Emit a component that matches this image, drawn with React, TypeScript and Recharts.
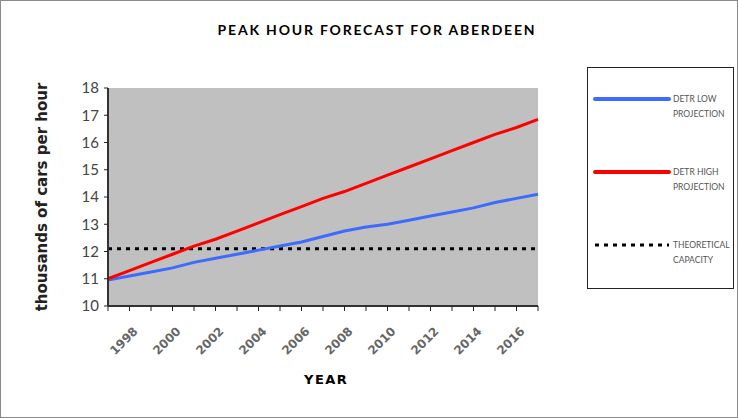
import React from 'react';
import { LineChart, Line, XAxis, YAxis, CartesianGrid } from 'recharts';

// Years on the category axis (labels shown every other year)
const years = [
  '1997', '1998', '1999', '2000', '2001', '2002', '2003', '2004', '2005', '2006', '2007',
  '2008', '2009', '2010', '2011', '2012', '2013', '2014', '2015', '2016', '2017',
];

// thousands of cars per hour
const lowProjection = [
  10.95, 11.1, 11.25, 11.4, 11.6, 11.75, 11.9, 12.05, 12.2, 12.35, 12.55,
  12.75, 12.9, 13.0, 13.15, 13.3, 13.45, 13.6, 13.8, 13.95, 14.1,
];
const highProjection = [
  11.0, 11.3, 11.6, 11.9, 12.2, 12.45, 12.75, 13.05, 13.35, 13.65, 13.95,
  14.2, 14.5, 14.8, 15.1, 15.4, 15.7, 16.0, 16.3, 16.55, 16.85,
];
const capacity = [
  12.1, 12.1, 12.1, 12.1, 12.1, 12.1, 12.1, 12.1, 12.1, 12.1, 12.1,
  12.1, 12.1, 12.1, 12.1, 12.1, 12.1, 12.1, 12.1, 12.1, 12.1,
];
const yTicks = [10, 11, 12, 13, 14, 15, 16, 17, 18];

const seriesNames = [
  { key: 'low', lines: ['DETR LOW', 'PROJECTION'], color: '#3d6bff', dash: undefined },
  { key: 'high', lines: ['DETR HIGH', 'PROJECTION'], color: '#ff0000', dash: undefined },
  { key: 'capacity', lines: ['THEORETICAL', 'CAPACITY'], color: '#000000', dash: '4 5' },
];

const data = years.map((year, i) => ({
  year,
  low: lowProjection[i],
  high: highProjection[i],
  capacity: capacity[i],
}));

const YearTick = (props: any) => {
  const { x, y, payload, index } = props;
  if (index % 2 === 0) return null;
  const ax = x + 9;
  const ay = y + 19;
  return (
    <text
      x={ax}
      y={ay}
      transform={`rotate(-45, ${ax}, ${ay})`}
      textAnchor="end"
      fontSize={12}
      fontWeight="bold"
      fill="#666"
      fontFamily="DejaVu Sans, sans-serif"
    >
      {payload.value}
    </text>
  );
};

const App: React.FC = () => {
  return (
    <div
      style={{
        position: 'absolute',
        left: 0,
        top: 0,
        width: 736,
        height: 416,
        border: '1px solid #8a8a8a',
        background: '#fff',
        fontFamily: 'Lato, sans-serif',
      }}
    >
      <div
        style={{
          position: 'absolute',
          left: 0,
          top: 20,
          width: 752,
          textAlign: 'center',
          fontSize: 14,
          fontWeight: 'bold',
          letterSpacing: 1.8,
          fontFamily: 'Lato, sans-serif',
        }}
      >
        PEAK HOUR FORECAST FOR ABERDEEN
      </div>

      <LineChart
        width={738}
        height={418}
        data={data}
        margin={{ top: 88, right: 200, left: 48, bottom: 62 }}
        style={{ position: 'absolute', left: -1, top: -1 }}
      >
        <CartesianGrid fill="#c0c0c0" horizontal={false} vertical={false} />
        <XAxis
          dataKey="year"
          interval={0}
          tick={<YearTick />}
          tickSize={5}
          height={50}
          axisLine={{ stroke: '#333', strokeWidth: 2 }}
          tickLine={{ stroke: '#222' }}
        />
        <XAxis
          xAxisId="top"
          dataKey="year"
          orientation="top"
          height={0}
          tick={false}
          tickLine={false}
          axisLine={{ stroke: '#8a8a8a', strokeWidth: 2 }}
        />
        <YAxis
          domain={[10, 18]}
          ticks={yTicks}
          interval={0}
          width={60}
          tickSize={4}
          tickMargin={5}
          tick={{ fontSize: 15, fill: '#444', fontFamily: 'Lato, sans-serif' }}
          axisLine={{ stroke: '#333', strokeWidth: 2 }}
          tickLine={{ stroke: '#222' }}
          label={{
            value: 'thousands of cars per hour',
            angle: -90,
            position: 'insideLeft',
            dx: -11,
            dy: 0,
            style: {
              textAnchor: 'middle',
              fontSize: 15,
              fontWeight: 'bold',
              fill: '#222',
              fontFamily: 'DejaVu Sans, sans-serif',
            },
          }}
        />
        <YAxis
          yAxisId="right"
          orientation="right"
          domain={[10, 18]}
          width={0}
          tick={false}
          tickLine={false}
          axisLine={{ stroke: '#8a8a8a', strokeWidth: 2 }}
        />
        <Line
          dataKey="capacity"
          stroke="#000"
          strokeWidth={3}
          strokeDasharray="4 5"
          dot={false}
          isAnimationActive={false}
        />
        <Line
          dataKey="low"
          stroke="#3d6bff"
          strokeWidth={3}
          dot={false}
          isAnimationActive={false}
        />
        <Line
          dataKey="high"
          stroke="#ff0000"
          strokeWidth={3}
          dot={false}
          isAnimationActive={false}
        />
      </LineChart>

      <div
        style={{
          position: 'absolute',
          left: 303,
          top: 371,
          fontSize: 13,
          fontWeight: 'bold',
          letterSpacing: 1.5,
          fontFamily: 'DejaVu Sans, sans-serif',
        }}
      >
        YEAR
      </div>

      <div
        style={{
          position: 'absolute',
          left: 586,
          top: 66,
          width: 145,
          height: 220,
          border: '1px solid #222',
          background: '#fff',
        }}
      >
        {seriesNames.map((s, i) => (
          <div
            key={s.key}
            style={{ position: 'absolute', left: 5, top: 21 + i * 73, width: 145 }}
          >
            <svg width={78} height={20} style={{ position: 'absolute', left: 0, top: 0 }}>
              <line
                x1={2}
                y1={10}
                x2={76}
                y2={10}
                stroke={s.color}
                strokeWidth={s.dash ? 3 : 4}
                strokeDasharray={s.dash}
                strokeLinecap={s.dash ? 'butt' : 'round'}
              />
            </svg>
            <div
              style={{
                position: 'absolute',
                left: 80,
                top: 3,
                fontSize: 8.5,
                lineHeight: '15px',
                color: '#555',
                fontFamily: 'Lato, sans-serif',
                whiteSpace: 'nowrap',
              }}
            >
              {s.lines[0]}
              <br />
              {s.lines[1]}
            </div>
          </div>
        ))}
      </div>
    </div>
  );
};

export default App;
